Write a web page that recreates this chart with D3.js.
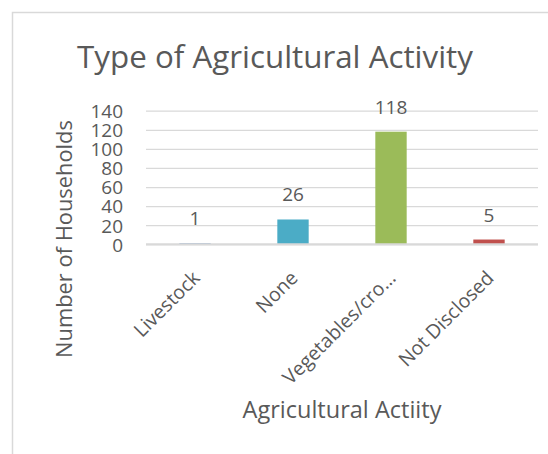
<!DOCTYPE html>
<html>
<head>
<meta charset="utf-8">
<script src="https://cdn.jsdelivr.net/npm/d3@7"></script>
<style>
  html, body { margin: 0; padding: 0; background: #ffffff; }
  svg { display: block; }
  text { font-family: "Open Sans", "DejaVu Sans", sans-serif; fill: #595959; }
</style>
</head>
<body>
<svg id="chart" width="548" height="454"></svg>
<script>
const categories = ["Livestock", "None", "Vegetables/cro…", "Not Disclosed"];
const values = [1, 26, 118, 5];
const barColors = ["#4F81BD", "#4BACC6", "#9BBB59", "#C0504D"];
const yTicks = [0, 20, 40, 60, 80, 100, 120, 140];
const chartTitle = "Type of Agricultural Activity";
const xTitle = "Agricultural Actiity";
const yTitle = "Number of Households";

const svg = d3.select("#chart");

function fitWidth(sel, target) {
  const fs = parseFloat(sel.style("font-size"));
  const w = sel.node().getComputedTextLength();
  sel.style("font-size", (fs * target / w) + "px");
}

// chart border
svg.append("rect")
  .attr("x", 12.5).attr("y", 12.5)
  .attr("width", 700).attr("height", 700)
  .attr("fill", "#ffffff")
  .attr("stroke", "#d9d9d9").attr("stroke-width", 1.5);

const plot = { left: 146, right: 538, top: 110.7, bottom: 244.3 };

const x = d3.scaleBand()
  .domain(categories)
  .range([plot.left, plot.right])
  .paddingInner(0.68)
  .paddingOuter(0.34);

const y = d3.scaleLinear()
  .domain([0, 140])
  .range([plot.bottom, plot.top]);

const tickFont = 19;
const catFont = 19.5;

// gridlines + y tick labels
const yAxis = svg.append("g")
  .attr("transform", `translate(${plot.left},0)`)
  .call(d3.axisLeft(y).tickValues(yTicks).tickSize(-(plot.right - plot.left)).tickPadding(23));
yAxis.select(".domain").remove();
yAxis.selectAll(".tick line").attr("stroke", "#d9d9d9").attr("stroke-width", 1.3);
yAxis.selectAll(".tick text")
  .style("font-family", '"Open Sans", sans-serif')
  .style("font-size", tickFont + "px")
  .attr("fill", "#595959")
  .attr("dy", "0.36em");

// bars
svg.append("g").selectAll("rect")
  .data(categories)
  .join("rect")
  .attr("x", d => x(d))
  .attr("width", x.bandwidth())
  .attr("y", (d, i) => y(values[i]))
  .attr("height", (d, i) => y(0) - y(values[i]))
  .attr("fill", (d, i) => barColors[i]);

// horizontal category axis line drawn over the bars
svg.append("line")
  .attr("x1", plot.left).attr("x2", plot.right)
  .attr("y1", y(0)).attr("y2", y(0))
  .attr("stroke", "#d9d9d9").attr("stroke-width", 2);

// data labels
svg.append("g").selectAll("text")
  .data(categories)
  .join("text")
  .attr("x", d => x(d) + x.bandwidth() / 2)
  .attr("y", (d, i) => y(values[i]) - 18)
  .attr("text-anchor", "middle")
  .style("font-size", tickFont + "px")
  .text((d, i) => values[i]);

// category labels rotated
svg.append("g").selectAll("text")
  .data(categories)
  .join("text")
  .attr("text-anchor", "end")
  .style("font-size", catFont + "px")
  .attr("transform", d => `translate(${x(d) + x.bandwidth() / 2 + 6},${plot.bottom + 35}) rotate(-45)`)
  .text(d => d);

// chart title
const t = svg.append("text")
  .attr("x", 275).attr("y", 68)
  .attr("text-anchor", "middle")
  .style("font-size", "30px")
  .text(chartTitle);
fitWidth(t, 396);

// x axis title
const xt = svg.append("text")
  .attr("x", (plot.left + plot.right) / 2).attr("y", 418)
  .attr("text-anchor", "middle")
  .style("font-size", "22px")
  .text(xTitle);
fitWidth(xt, 199);

// y axis title
const yt = svg.append("text")
  .attr("transform", "translate(72,239) rotate(-90)")
  .attr("text-anchor", "middle")
  .style("font-size", "22px")
  .text(yTitle);
fitWidth(yt, 238);
</script>
</body>
</html>
